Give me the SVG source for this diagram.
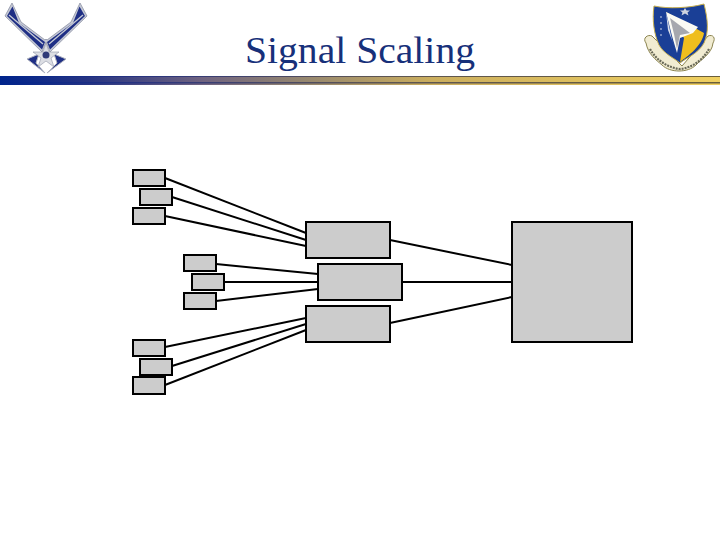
<svg xmlns="http://www.w3.org/2000/svg" width="720" height="540" viewBox="0 0 720 540">
<style>
.b{fill:#cccccc;stroke:#000;stroke-width:2}
.c line{stroke:#000;stroke-width:2}
.t{font-family:"Liberation Serif","Times New Roman",serif;font-size:37px;fill:#17307a}
.w{fill:#1f2f85}
</style>
<defs>
<linearGradient id="g" x1="0" x2="1" y1="0" y2="0">
<stop offset="0" stop-color="#00248c"/><stop offset=".12" stop-color="#263483"/><stop offset=".28" stop-color="#6f6380"/><stop offset=".42" stop-color="#95866f"/><stop offset=".6" stop-color="#cbae5e"/><stop offset="1" stop-color="#f0d060"/>
</linearGradient>
<linearGradient id="d" x1="0" x2="1" y1="0" y2="0">
<stop offset="0" stop-color="#00248c"/><stop offset=".2" stop-color="#2a3480"/><stop offset=".5" stop-color="#5b5455"/><stop offset="1" stop-color="#6b5f3a"/>
</linearGradient>
</defs>
<rect width="720" height="540" fill="#fff"/>
<g id="header-bar">
<rect x="0" y="76" width="720" height="9" fill="url(#g)"/>
<rect x="0" y="76" width="720" height="1" fill="url(#d)"/>
<rect x="0" y="82" width="720" height="1.5" fill="url(#d)"/>
</g>
<g id="logo-wings">
<path d="M12 3 5 16 42 52 46 42 50 52 87 16 80 3 71 22 47 40 46 39 45 40 21 22Z" fill="#c4c8d4" stroke="#8e93a6" stroke-width=".8"/>
<path class="w" d="M12.500 6.500 7 16 42 49.500 45 42 19 23Z"/>
<path class="w" d="M79.500 6.500 85 16 50 49.500 47 42 73 23Z"/>
<path d="M9 15 43 44M83 15 49 44" stroke="#c4c8d4" stroke-width="1.400" fill="none"/>
<path class="w" d="M27 59 39 54 36 63 45 73Z" stroke="#b0b4c0" stroke-width="1"/>
<path class="w" d="M66 59 54 54 57 63 47 73Z" stroke="#b0b4c0" stroke-width="1"/>
<path d="M46 43 49 52 59 52 51 58 54 67 46 61 38 67 41 58 33 52 43 52Z" fill="#dcdee4" stroke="#8e93a6" stroke-width=".6"/>
<circle cx="46" cy="55" r="3.500" fill="#2f3a78"/>
</g>
<g id="logo-shield">
<path d="M646 43 C642 38 648 34 652 36 L682 66 L708 36 C713 34 716 38 713 43 C712 54 700 60 696 65 C688 73 670 73 662 65 C656 60 648 54 646 43Z" fill="#f1ecd2" stroke="#8b8450" stroke-width="1"/>
<path d="M650 49 C656 60 668 68 680 69 C692 68 703 60 709 49" fill="none" stroke="#6a6a58" stroke-width="2.200" stroke-dasharray="2 1"/>
<path d="M654 6 C668 9 690 8 704 4 C708 20 709 32 704 43 C698 54 686 58 680 63 C674 58 664 54 659 45 C654 34 652 20 654 6Z" fill="#1a3f96" stroke="#c8b050" stroke-width="1"/>
<path d="M666 12 704 33 C702 46 688 56 680 62 L684 38Z" fill="#efbe1e"/>
<path d="M666 12 698 27 693 33 680 38 677 53 672 36Z" fill="#fbfbf4"/>
<path d="M670 18 690 33 680 35 677 49 674 34Z" fill="#a6a8ae"/>
<path d="M666 12 672 40 677 53 668 30Z" fill="#d8deea"/>
<path d="M685 8 686.500 10.500 690 10.500 687.500 12.500 688.500 15.500 685 13.500 681.500 15.500 682.500 12.500 680 10.500 683.500 10.500Z" fill="#cfd4e0"/>
<g fill="#e6e8ee"><circle cx="661" cy="17" r=".8"/><circle cx="661" cy="23" r=".8"/><circle cx="661" cy="29" r=".8"/><circle cx="661" cy="35" r=".8"/></g>
</g>
<text id="title" class="t" x="245" y="63" textLength="230" lengthAdjust="spacingAndGlyphs">Signal Scaling</text>
<g id="connectors" class="c">
<line x1="165" y1="178" x2="306" y2="233"/>
<line x1="172" y1="197" x2="306" y2="240"/>
<line x1="165" y1="216" x2="306" y2="246"/>
<line x1="216" y1="264" x2="318" y2="274"/>
<line x1="224" y1="282" x2="318" y2="282"/>
<line x1="216" y1="301" x2="318" y2="289"/>
<line x1="165" y1="347" x2="306" y2="318"/>
<line x1="172" y1="366" x2="306" y2="324"/>
<line x1="165" y1="385" x2="306" y2="330"/>
<line x1="390" y1="240" x2="512" y2="265"/>
<line x1="402" y1="282" x2="512" y2="282"/>
<line x1="390" y1="323" x2="512" y2="297"/>
</g>
<g id="s1"><rect class="b" x="133" y="170" width="32" height="16"/></g>
<g id="s2"><rect class="b" x="140" y="189" width="32" height="16"/></g>
<g id="s3"><rect class="b" x="133" y="208" width="32" height="16"/></g>
<g id="s4"><rect class="b" x="184" y="255" width="32" height="16"/></g>
<g id="s5"><rect class="b" x="192" y="274" width="32" height="16"/></g>
<g id="s6"><rect class="b" x="184" y="293" width="32" height="16"/></g>
<g id="s7"><rect class="b" x="133" y="340" width="32" height="16"/></g>
<g id="s8"><rect class="b" x="140" y="359" width="32" height="16"/></g>
<g id="s9"><rect class="b" x="133" y="377" width="32" height="17"/></g>
<g id="m1"><rect class="b" x="306" y="222" width="84" height="36"/></g>
<g id="m2"><rect class="b" x="318" y="264" width="84" height="36"/></g>
<g id="m3"><rect class="b" x="306" y="306" width="84" height="36"/></g>
<g id="big"><rect class="b" x="512" y="222" width="120" height="120"/></g>
</svg>
